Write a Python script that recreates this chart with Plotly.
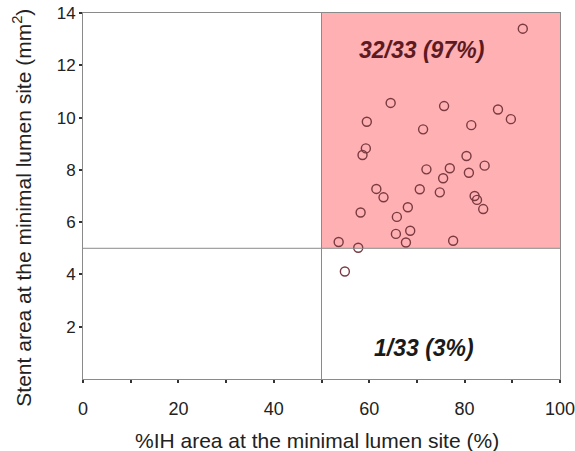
import plotly.graph_objects as go

# %IH area (x) and stent area (y) at the minimal lumen site
ih_area = [92.2, 64.5, 75.7, 87.0, 89.7, 59.5, 81.4, 71.3,
           59.3, 58.6, 80.4, 84.2, 72.0, 76.9, 80.9, 75.5, 61.5, 63.0,
           70.6, 74.8, 82.1, 82.6, 83.9, 68.1, 58.2, 65.8, 68.6, 65.6,
           67.7, 77.6, 53.6, 57.7, 54.9]
stent_area = [13.4, 10.56, 10.44, 10.31, 9.94, 9.84, 9.71, 9.55,
              8.82, 8.57, 8.53, 8.16, 8.02, 8.06, 7.89, 7.68, 7.27, 6.95,
              7.26, 7.14, 7.0, 6.85, 6.5, 6.57, 6.37, 6.2, 5.67, 5.55,
              5.22, 5.29, 5.24, 5.02, 4.11]

x_cut = 50
y_cut = 5
x_ticks = [0, 20, 40, 60, 80, 100]
y_ticks = [2, 4, 6, 8, 10, 12, 14]
label_hi = "32/33 (97%)"
label_lo = "1/33 (3%)"
x_title = "%IH area at the minimal lumen site (%)"
y_title = "Stent area at the minimal lumen site (mm<sup>2</sup>)"

FONT = "Liberation Sans, Arial, sans-serif"

fig = go.Figure()
fig.add_shape(type="rect", x0=x_cut, x1=100, y0=y_cut, y1=14,
              fillcolor="#ffb0b3", line=dict(width=0), layer="below")
fig.add_shape(type="line", x0=x_cut, x1=x_cut, y0=0, y1=14,
              line=dict(color="#8a8a8a", width=1))
fig.add_shape(type="line", x0=0, x1=100, y0=y_cut, y1=y_cut,
              line=dict(color="#8a8a8a", width=1))

fig.add_trace(go.Scatter(
    x=ih_area, y=stent_area, mode="markers",
    marker=dict(symbol="circle-open", size=9, color="#7a3a40",
                line=dict(width=1.4, color="#7a3a40")),
    showlegend=False))

fig.add_annotation(x=71, y=12.6, text="<b><i>" + label_hi + "</i></b>",
                   showarrow=False, font=dict(size=23, color="#5c1a22", family=FONT))
fig.add_annotation(x=71.5, y=1.17, text="<b><i>" + label_lo + "</i></b>",
                   showarrow=False, font=dict(size=23, color="#1a1a1a", family=FONT))

fig.add_annotation(xref="paper", yref="paper", x=0.49, y=-0.168,
                   xanchor="center", yanchor="middle",
                   text=x_title, showarrow=False,
                   font=dict(size=21, color="#222", family=FONT))
fig.add_annotation(xref="paper", yref="paper", x=-0.128, y=0.468,
                   xanchor="center", yanchor="middle",
                   text=y_title, showarrow=False, textangle=-90,
                   font=dict(size=21, color="#222", family=FONT))

fig.update_layout(
    width=575, height=451,
    margin=dict(l=83, r=15, t=13, b=72),
    paper_bgcolor="white", plot_bgcolor="white",
    font=dict(family=FONT, color="#222222"),
    xaxis=dict(range=[0, 100], tickvals=x_ticks, ticktext=[str(v) for v in x_ticks],
               automargin=False, ticklabeloverflow="allow", ticklabelstandoff=10,
               showgrid=False, zeroline=False, showline=True, mirror=True,
               linecolor="#8a8a8a", linewidth=1,
               ticks="outside", ticklen=3, tickcolor="#333", tickwidth=2,
               minor=dict(dtick=10, tick0=0, ticks="outside", ticklen=3,
                          tickcolor="#333", tickwidth=2, showgrid=False),
               tickfont=dict(size=18, color="#222")),
    yaxis=dict(range=[0, 14], tickvals=y_ticks, ticktext=[str(v) for v in y_ticks],
               automargin=False, ticklabeloverflow="allow",
               showgrid=False, zeroline=False, showline=True, mirror=True,
               linecolor="#8a8a8a", linewidth=1,
               ticks="outside", ticklen=3, tickcolor="#333", tickwidth=2,
               tickfont=dict(size=17, color="#222")),
)

# remove the default page margin so the figure fills the window exactly
fig.write_html("out.html",
               config={"displayModeBar": False},
               post_script="document.body.style.margin='0';document.body.style.overflow='hidden';")
